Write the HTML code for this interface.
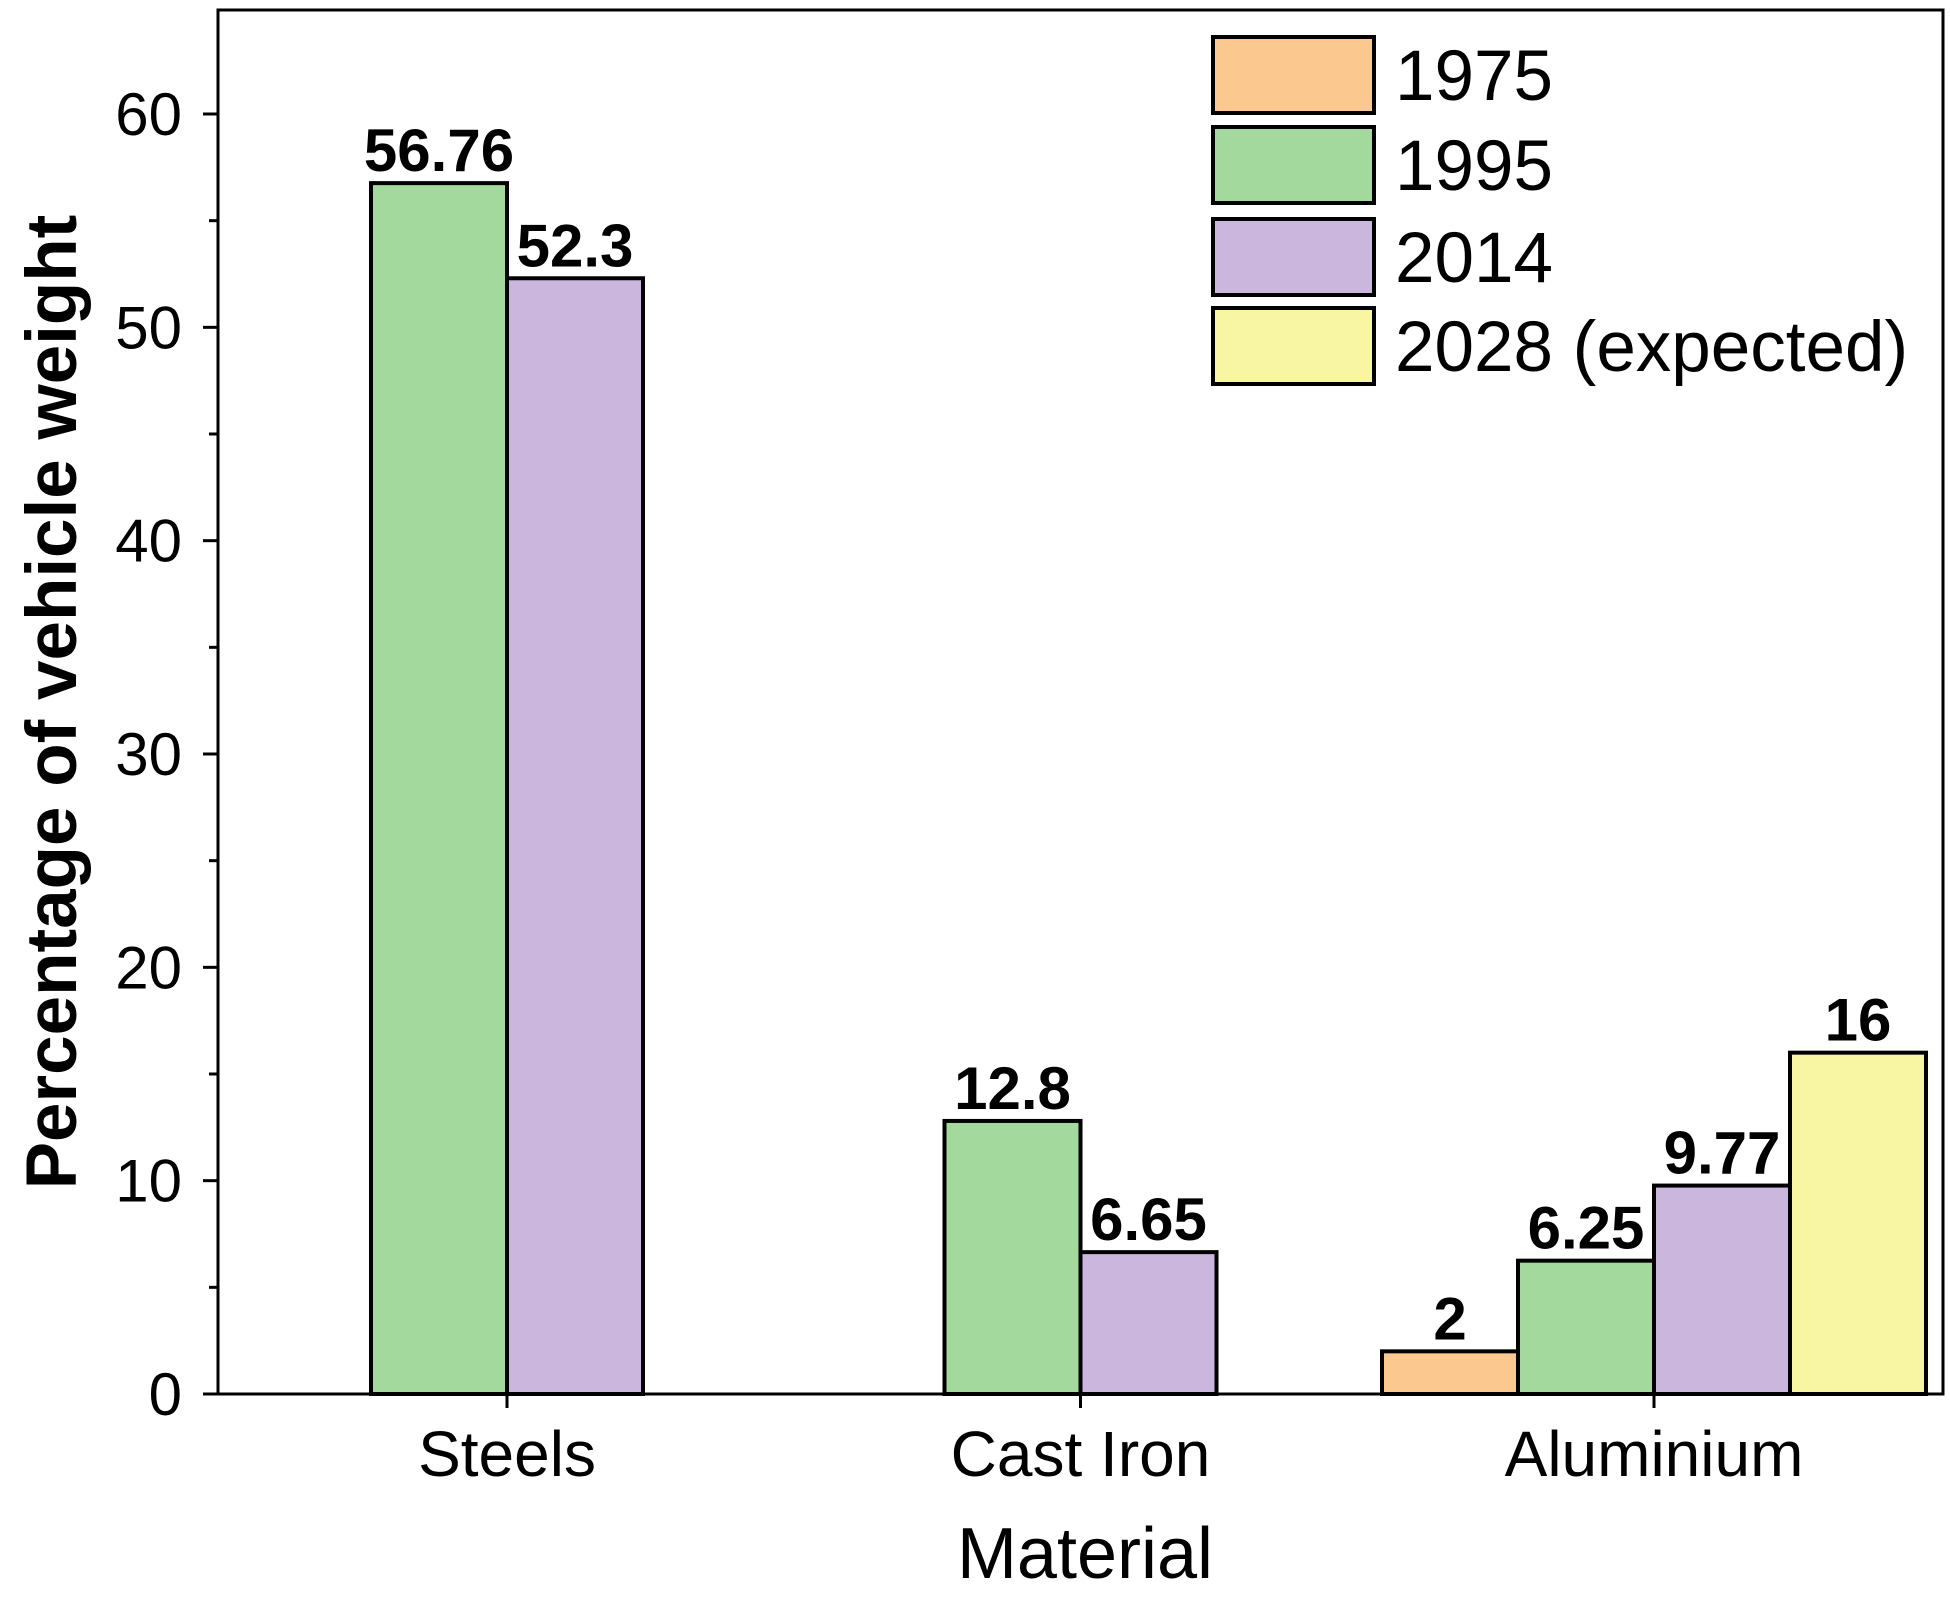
<!DOCTYPE html>
<html><head><meta charset="utf-8"><style>
html,body{margin:0;padding:0;background:#fff;}
svg text{font-family:"Liberation Sans",Arial,sans-serif;}
</style></head><body>
<svg id="chart" width="1950" height="1603" viewBox="0 0 1950 1603" xmlns="http://www.w3.org/2000/svg"></svg>
<script>
const categories = ["Steels", "Cast Iron", "Aluminium"];
const seriesNames = ["1975", "1995", "2014", "2028 (expected)"];
const values1975 = [null, null, 2];
const values1995 = [56.76, 12.8, 6.25];
const values2014 = [52.3, 6.65, 9.77];
const values2028 = [null, null, 16];
const valueLabels1975 = ["", "", "2"];
const valueLabels1995 = ["56.76", "12.8", "6.25"];
const valueLabels2014 = ["52.3", "6.65", "9.77"];
const valueLabels2028 = ["", "", "16"];
const yTicks = [0, 10, 20, 30, 40, 50, 60];

const colors = ["#fbc98f", "#a3d99c", "#cbb6de", "#f8f6a3"];
const seriesVals = [values1975, values1995, values2014, values2028];
const seriesLabels = [valueLabels1975, valueLabels1995, valueLabels2014, valueLabels2028];
const svg = document.getElementById('chart');
const NS = "http://www.w3.org/2000/svg";
const L = 218, R = 1943, T = 10, B = 1394;
const yMax = 64.6;
function y(v){ return B - v / 60 * (B - 114); }
const groupStart = 507, groupStep = 573.5, barW = 136;
function xGroup(i){ return groupStart + i * groupStep; }
function mk(tag, attrs, parent){
  const e = document.createElementNS(NS, tag);
  for (const k in attrs) e.setAttribute(k, attrs[k]);
  (parent || svg).appendChild(e);
  return e;
}
const frame = mk('rect', {x:L, y:T, width:R-L, height:B-T, fill:'none', stroke:'#000', 'stroke-width':3});


yTicks.forEach(t => {
  const ln = mk('line', {x1:L-15, x2:L, y1:y(t), y2:y(t), stroke:'#000', 'stroke-width':3});
  
  
  const tx = mk('text', {x:L-36, y:y(t)+21, 'text-anchor':'end', 'font-size':60});
  tx.textContent = t;
  
  
});
for (let v = 5; v < yMax; v += 10) {
  const ln = mk('line', {x1:L-9, x2:L, y1:y(v), y2:y(v), stroke:'#000', 'stroke-width':3});
  
  
}
categories.forEach((c, i) => {
  const ln = mk('line', {x1:xGroup(i), x2:xGroup(i), y1:B, y2:B+14, stroke:'#000', 'stroke-width':3});
  
  
  const tx = mk('text', {x:xGroup(i), y:1476, 'text-anchor':'middle', 'font-size':64});
  tx.textContent = c;
  
  
});
seriesVals.forEach((vals, s) => {
  vals.forEach((v, i) => {
    if (v === null) return;
    const x0 = xGroup(i) + (s - 2) * barW;
    const r = mk('rect', {x:x0, y:y(v), width:barW, height:B - y(v), fill:colors[s], stroke:'#000', 'stroke-width':4});
    
    
    const tx = mk('text', {x:x0 + barW/2, y:y(v) - 12, 'text-anchor':'middle', 'font-size':60, 'font-weight':'bold'});
    tx.textContent = seriesLabels[s][i];
    
    
  });
});
const yt = mk('text', {x:0, y:0, transform:'translate(76,702) rotate(-90)', 'text-anchor':'middle', 'font-size':71, 'font-weight':'bold'});
yt.textContent = 'Percentage of vehicle weight';


const xt = mk('text', {x:1085, y:1578, 'text-anchor':'middle', 'font-size':72});
xt.textContent = 'Material';


const legendY = [75, 165, 257, 346];
seriesNames.forEach((n, s) => {
  const g = mk('g', {});
  
  
  mk('rect', {x:1213, y:legendY[s]-38, width:161, height:76, fill:colors[s], stroke:'#000', 'stroke-width':4}, g);
  const tx = mk('text', {x:1395, y:legendY[s]+25, 'font-size':71}, g);
  tx.textContent = n;
});
</script>
</body></html>
